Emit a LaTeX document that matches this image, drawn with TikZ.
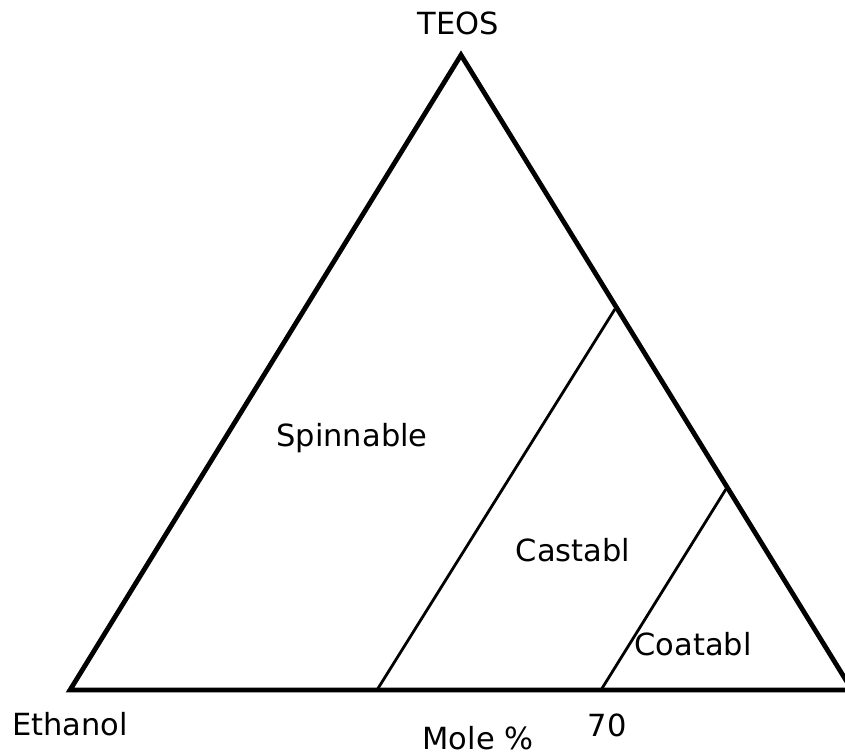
\documentclass[tikz,border=0pt]{standalone}
\usepackage{fontspec}
\setmainfont{DejaVu Sans}
\begin{document}
\begin{tikzpicture}[x=1pt,y=-1pt,
  lbl/.style={anchor=base,inner sep=0pt,font=\fontsize{30.5}{36}\selectfont},
  frame/.style={line width=4.8pt,line join=miter},
  divider/.style={line width=2.8pt}]
\useasboundingbox (0,0) rectangle (845,755);
\coordinate (L) at (70,690);
\coordinate (T) at (461,55);
\coordinate (R) at (852,690);
\coordinate (a1) at (377,690);
\coordinate (a2) at (615,309);
\coordinate (b1) at (601,690);
\coordinate (b2) at (726,489);
\draw[frame] (L) -- (T) -- (R) -- cycle;
\draw[divider] (a1) -- (a2);
\draw[divider] (b1) -- (b2);
\node[lbl] (teos) at (458,34) {TEOS};
\node[lbl] (spin) at (352,446) {Spinnable};
\node[lbl] (cast) at (573,561) {Castabl};
\node[lbl] (coat) at (693,655) {Coatabl};
\node[lbl] (eth) at (70,735) {Ethanol};
\node[lbl] (mole) at (478,749) {Mole \%};
\node[lbl] (seventy) at (607,736) {70};
\end{tikzpicture}
\end{document}
